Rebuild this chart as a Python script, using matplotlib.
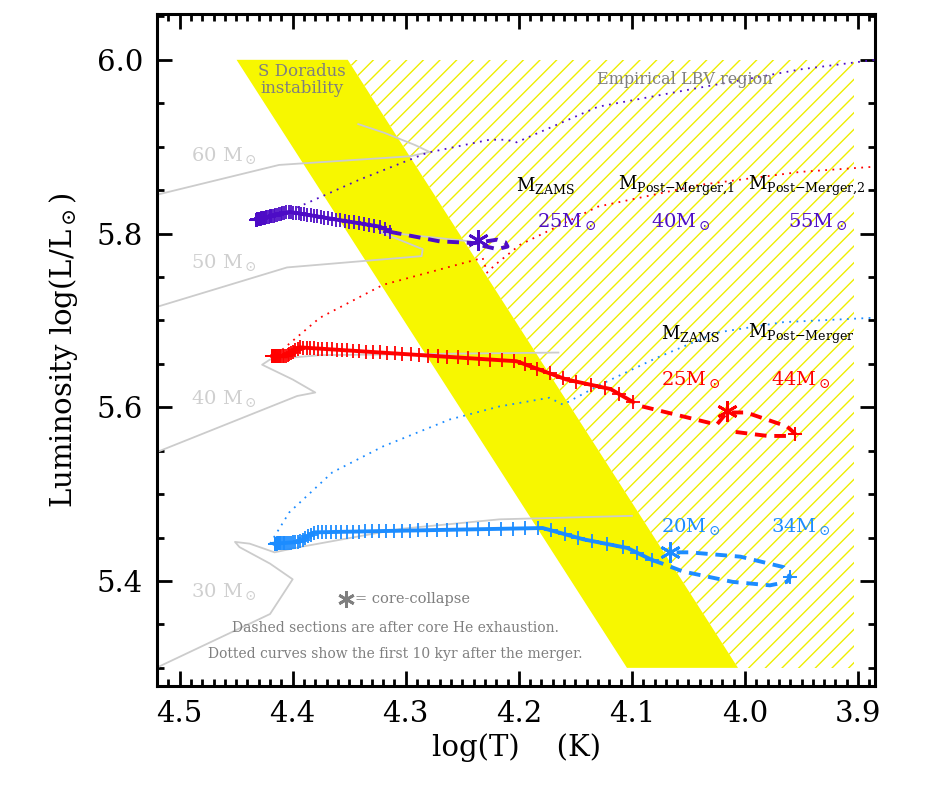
import matplotlib
matplotlib.use("Agg")
import matplotlib.pyplot as plt
from matplotlib.patches import Polygon
from matplotlib.ticker import MultipleLocator
import numpy as np

plt.rcParams['font.family'] = 'DejaVu Serif'
plt.rcParams['mathtext.fontset'] = 'dejavuserif'
plt.rcParams['hatch.linewidth'] = 1.0

PURPLE = '#4d0cc6'
RED = '#ff0000'
BLUE = '#1c8cff'
GREY_TXT = '#7f7f7f'
GREY_TRK = '#cccccc'

# S Doradus strip (corners, logT / logL)
sdor_T = [4.4496, 4.3513, 4.0062, 4.1044]
sdor_L = [6.0, 6.0, 5.30, 5.30]
lbv_right_T = 3.904

# single-star tracks
trk60_T = [4.519, 4.412, 4.296, 4.279, 4.292, 4.319, 4.342]
trk60_L = [5.845, 5.879, 5.889, 5.894, 5.902, 5.916, 5.926]
trk50_T = [4.519, 4.405, 4.286, 4.285, 4.323, 4.243]
trk50_L = [5.716, 5.761, 5.774, 5.782, 5.802, 5.791]
trk40_T = [4.519, 4.396, 4.380, 4.400, 4.427, 4.420, 4.376, 4.165]
trk40_L = [5.549, 5.613, 5.617, 5.632, 5.649, 5.655, 5.660, 5.663]
trk30_T = [4.519, 4.420, 4.400, 4.420, 4.447, 4.451, 4.438, 4.416, 4.394, 4.305, 4.217, 4.100]
trk30_L = [5.301, 5.362, 5.402, 5.420, 5.439, 5.445, 5.443, 5.433, 5.439, 5.460, 5.471, 5.475]
grey_labels = ['60 M$_\\odot$', '50 M$_\\odot$', '40 M$_\\odot$', '30 M$_\\odot$']
grey_label_L = [5.890, 5.767, 5.610, 5.388]

# merger products: solid (core H/He burning), dashed (after He exhaustion), dotted (first 10 kyr)
pur_sol_T = [4.432, 4.403, 4.361, 4.323, 4.314]
pur_sol_L = [5.816, 5.825, 5.816, 5.808, 5.802]
pur_das_T = [4.314, 4.270, 4.239, 4.219, 4.212, 4.210, 4.219, 4.232]
pur_das_L = [5.802, 5.791, 5.789, 5.793, 5.790, 5.785, 5.782, 5.786]
pur_dot_T = [4.396, 4.341, 4.281, 4.226, 4.211, 4.202, 4.130, 4.040, 3.951, 3.885]
pur_dot_L = [5.830, 5.862, 5.893, 5.908, 5.908, 5.905, 5.946, 5.968, 5.989, 6.0]
pur_cc = (4.236, 5.793)

red_sol_T = [4.418, 4.405, 4.394, 4.202, 4.158, 4.119, 4.099]
red_sol_L = [5.659, 5.659, 5.669, 5.653, 5.632, 5.621, 5.606]
red_das_T = [4.091, 4.025, 4.016, 3.999, 3.963, 3.956, 3.960, 3.980, 4.011]
red_das_L = [5.601, 5.580, 5.594, 5.594, 5.578, 5.570, 5.567, 5.567, 5.572]
red_dot_T = [4.414, 4.376, 4.320, 4.232, 4.228, 4.221, 4.199, 4.130, 4.040, 3.951, 3.885]
red_dot_L = [5.661, 5.703, 5.741, 5.772, 5.755, 5.764, 5.787, 5.831, 5.856, 5.871, 5.877]
red_cc = (4.016, 5.596)
red_end = (3.956, 5.569)

blu_sol_T = [4.416, 4.394, 4.381, 4.179, 4.143, 4.104, 4.082]
blu_sol_L = [5.443, 5.445, 5.456, 5.461, 5.448, 5.438, 5.424]
blu_das_T = [4.082, 4.073, 4.055, 4.011, 3.978, 3.963, 3.960, 3.966, 4.004, 4.049, 4.066]
blu_das_L = [5.424, 5.420, 5.411, 5.399, 5.395, 5.399, 5.405, 5.416, 5.428, 5.433, 5.433]
blu_dot_T = [4.420, 4.403, 4.365, 4.320, 4.261, 4.217, 4.173, 4.161, 4.128, 4.078, 4.025, 3.966, 3.887]
blu_dot_L = [5.443, 5.479, 5.525, 5.555, 5.586, 5.601, 5.611, 5.603, 5.626, 5.657, 5.686, 5.698, 5.703]
blu_cc = (4.066, 5.433)
blu_end = (3.960, 5.405)

fig = plt.figure(figsize=(9.26, 8.11), dpi=100)
ax = fig.add_axes([0.1695, 0.154, 0.7755, 0.829])

ax.add_patch(Polygon(list(zip([sdor_T[1], lbv_right_T, lbv_right_T, sdor_T[2]],
                              [6.0, 6.0, 5.30, 5.30])),
                     facecolor='none', edgecolor='#eeee00', lw=0, hatch='//', zorder=0))
ax.add_patch(Polygon(list(zip(sdor_T, sdor_L)), facecolor='#f7f700', edgecolor='none', zorder=1))

for T, L in [(trk60_T, trk60_L), (trk50_T, trk50_L), (trk40_T, trk40_L), (trk30_T, trk30_L)]:
    ax.plot(T, L, color=GREY_TRK, lw=1.3, zorder=2)
for lab, y in zip(grey_labels, grey_label_L):
    ax.text(4.49, y, lab, color='#cfcfcf', fontsize=14, va='center', ha='left', zorder=3)


def track(sT, sL, dT, dL, oT, oL, col, cc):
    ax.plot(oT, oL, color=col, lw=1.3, ls=(0, (1, 3)), zorder=3)
    ax.plot(sT, sL, color=col, lw=2.8, zorder=4)
    ax.plot(dT, dL, color=col, lw=2.8, ls=(0, (3, 2)), zorder=4)
    # '+' time markers, crowded near the start
    d = np.concatenate([[0], np.cumsum(np.hypot(np.diff(sT), np.diff(np.array(sL) * 0.77)))])
    s = (np.linspace(0, 1, 70) ** 3.0) * d[-1]
    ax.plot(np.interp(s, d, sT), np.interp(s, d, sL), ls='none', marker='+', ms=10, mew=1.3,
            color=col, zorder=5)
    ax.plot([cc[0]], [cc[1]], marker=(6, 2, 0), ms=15, mew=2, color=col, zorder=6)


track(pur_sol_T, pur_sol_L, pur_das_T, pur_das_L, pur_dot_T, pur_dot_L, PURPLE, pur_cc)
track(red_sol_T, red_sol_L, red_das_T, red_das_L, red_dot_T, red_dot_L, RED, red_cc)
track(blu_sol_T, blu_sol_L, blu_das_T, blu_das_L, blu_dot_T, blu_dot_L, BLUE, blu_cc)
ax.plot(*red_end, marker='+', ms=10, mew=1.4, color=RED, zorder=5)
ax.plot(*blu_end, marker='+', ms=10, mew=1.4, color=BLUE, zorder=5)

ax.text(4.392, 5.977, 'S Doradus\ninstability', color=GREY_TXT, fontsize=12,
        ha='center', va='center', linespacing=1.0, zorder=3)
ax.text(4.053, 5.977, 'Empirical LBV region', color=GREY_TXT, fontsize=11.5, ha='center', va='center')

mt = dict(fontsize=14, ha='center', va='center', zorder=7)
hd = dict(fontsize=13, ha='center', va='center', zorder=7, color='k')
ax.text(4.176, 5.855, '$\\mathregular{M_{ZAMS}}$', **hd)
ax.text(4.061, 5.855, '$\\mathregular{M_{Post{-}Merger{,}1}}$', **hd)
ax.text(3.945, 5.855, '$\\mathregular{M_{Post{-}Merger{,}2}}$', **hd)
ax.text(4.158, 5.814, '25M$_\\odot$', color=PURPLE, **mt)
ax.text(4.057, 5.814, '40M$_\\odot$', color=PURPLE, **mt)
ax.text(3.936, 5.814, '55M$_\\odot$', color=PURPLE, **mt)
ax.text(4.048, 5.685, '$\\mathregular{M_{ZAMS}}$', **hd)
ax.text(3.950, 5.685, '$\\mathregular{M_{Post{-}Merger}}$', **hd)
ax.text(4.048, 5.632, '25M$_\\odot$', color=RED, **mt)
ax.text(3.951, 5.632, '44M$_\\odot$', color=RED, **mt)
ax.text(4.048, 5.463, '20M$_\\odot$', color=BLUE, **mt)
ax.text(3.951, 5.463, '34M$_\\odot$', color=BLUE, **mt)

ax.plot([4.353], [5.379], marker=(6, 2, 0), ms=12, mew=2, color=GREY_TXT)
ax.text(4.345, 5.379, '= core-collapse', color=GREY_TXT, fontsize=10.5, va='center', ha='left')
ax.text(4.309, 5.346, 'Dashed sections are after core He exhaustion.', color=GREY_TXT,
        fontsize=10, ha='center', va='center')
ax.text(4.309, 5.316, 'Dotted curves show the first 10 kyr after the merger.', color=GREY_TXT,
        fontsize=10, ha='center', va='center')

ax.set_xlim(4.520, 3.885)
ax.set_ylim(5.279, 6.053)
ax.xaxis.set_major_locator(MultipleLocator(0.1))
ax.xaxis.set_minor_locator(MultipleLocator(0.01))
ax.yaxis.set_major_locator(MultipleLocator(0.2))
ax.yaxis.set_minor_locator(MultipleLocator(0.05))
ax.tick_params(which='both', direction='in', top=True, right=True, width=2, labelsize=21)
ax.tick_params(which='major', length=11, pad=10)
ax.tick_params(which='minor', length=5)
for sp in ax.spines.values():
    sp.set_linewidth(2.2)
ax.set_xlabel('log(T)    (K)', fontsize=21)
ax.set_ylabel('Luminosity log(L/L$_\\odot$)', fontsize=21, labelpad=12)

fig.savefig('out.png', dpi=100)
